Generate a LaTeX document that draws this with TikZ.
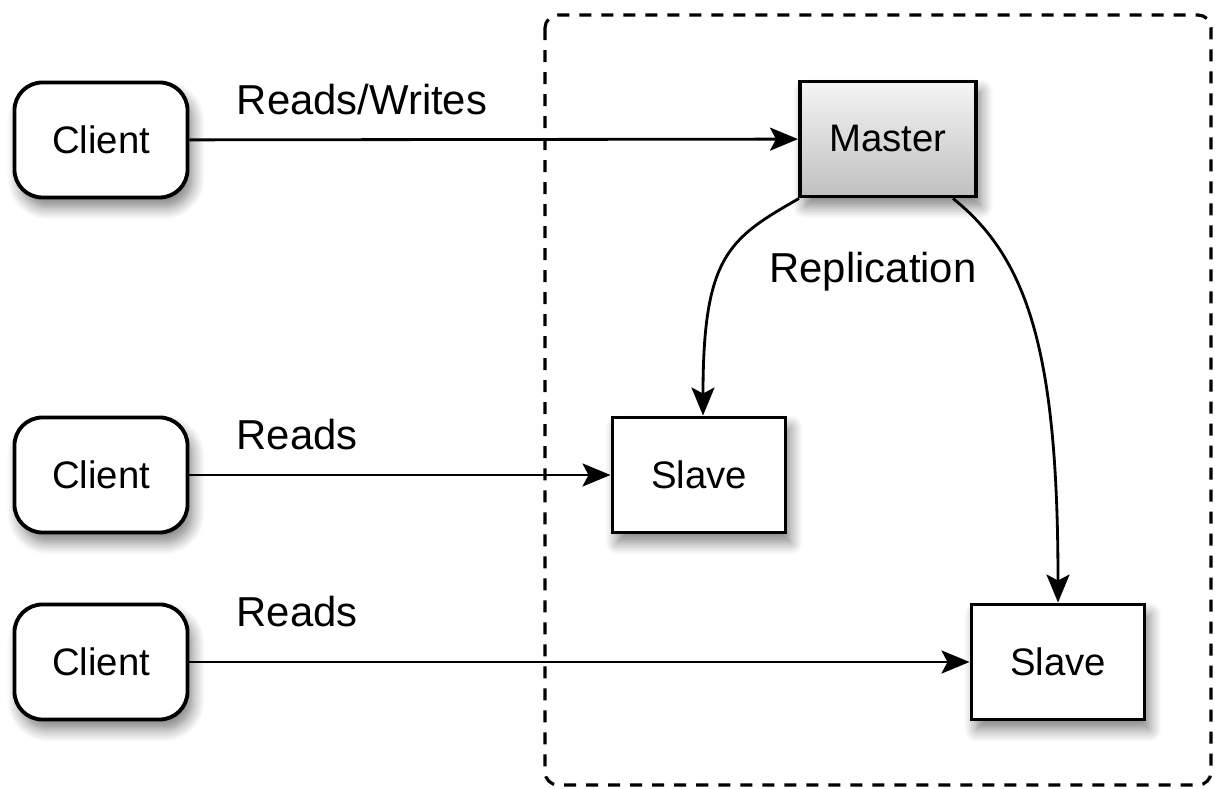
\documentclass[tikz,border=0pt]{standalone}
\usepackage{fontspec}
\setmainfont{Liberation Sans}
\usetikzlibrary{arrows.meta,shadows.blur}
\tikzset{
  boxbase/.style={draw, line width=1.1pt, fill=white, inner sep=0pt,
    minimum width=1.73cm, minimum height=1.15cm,
    font=\fontsize{10.9}{13}\selectfont,
    blur shadow={shadow blur steps=8, shadow blur radius=1.2mm, shadow xshift=0.5mm, shadow yshift=-1mm, shadow opacity=50}},
  client/.style={boxbase, rounded corners=2.8mm},
  server/.style={boxbase},
  master/.style={boxbase, minimum width=1.76cm, minimum height=1.15cm, top color=gray!8, bottom color=gray!50},
  lbl/.style={font=\fontsize{11.9}{14}\selectfont, inner sep=0pt},
  arr/.style={line width=0.8pt, -{Stealth[length=2.8mm, width=2.3mm, inset=0.6mm]}},
  zone/.style={line width=0.9pt, dash pattern=on 1.2mm off 1mm, rounded corners=1.3mm}
}
\begin{document}
\begin{tikzpicture}[x=0.01cm, y=-0.01cm]
\useasboundingbox (0,0) rectangle (1215,789);
\draw[zone] (545,15) rectangle (1211,785);

\node[client] (c1) at (101,140) {Client};
\node[client] (c2) at (101,475) {Client};
\node[client] (c3) at (101,662) {Client};
\node[master] (m) at (888,139) {Master};
\node[server] (s1) at (699,475) {Slave};
\node[server] (s2) at (1058,662) {Slave};

\node[lbl] (l1) at (362,100) {Reads/Writes};
\node[lbl] (l2) at (873,272) {Replication};
\node[lbl] (l3) at (297,435) {Reads};
\node[lbl] (l4) at (297,612) {Reads};

\draw[arr] (c1) -- (m);
\draw[arr] (c2) -- (s1);
\draw[arr] (c3) -- (s2);
\draw[arr] ([xshift=0.01cm]m.south west) .. controls +(-70,40) and +(0,-160) .. ([xshift=0.04cm]s1.north);
\draw[arr] ([xshift=-0.25cm]m.south east) .. controls +(75,60) and +(0,-250) .. (s2.north);
\end{tikzpicture}
\end{document}
